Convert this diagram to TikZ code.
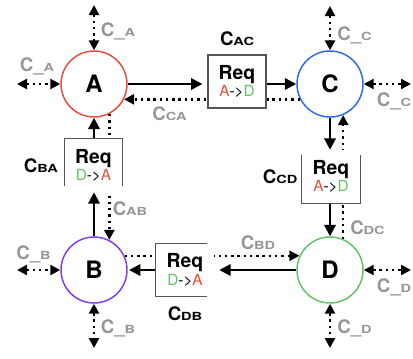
\documentclass[tikz,border=0pt]{standalone}
\usepackage{fontspec}
\setmainfont{TeX Gyre Heros}
\usepackage{graphicx}
\usetikzlibrary{arrows.meta,positioning,backgrounds}
\definecolor{rougeA}{RGB}{232,76,61}
\definecolor{bleuC}{RGB}{45,105,240}
\definecolor{violetB}{RGB}{128,60,240}
\definecolor{vertD}{RGB}{100,195,100}
\definecolor{grisT}{RGB}{150,150,150}
\definecolor{grisBoite}{RGB}{85,85,85}
%noms des canaux
\newcommand{\canal}[1]{{\fontsize{14}{14}\selectfont C}\scalebox{1.3}[1]{\fontsize{8.4}{9}\selectfont #1}}
\newcommand{\canalp}[1]{{\fontsize{14}{14}\selectfont C\_}\scalebox{1.3}[1]{\fontsize{8.4}{9}\selectfont #1}}
\newcommand{\req}[2]{{\fontsize{14.5}{15}\selectfont\bfseries Req}\\[1pt]{\fontsize{11.5}{12}\selectfont\mdseries #1->#2}}
\begin{document}
\begin{tikzpicture}[x=0.75pt,y=-0.75pt,
	noeud/.style={circle,draw,line width=1.1pt,fill=white,minimum size=49.5pt,inner sep=0pt,font=\fontsize{18}{18}\selectfont\bfseries},
	file/.style={fill=white,minimum width=43.5pt,minimum height=39.75pt,inner sep=0pt,align=center},
	bord/.style={draw=grisBoite,line width=0.9pt},
	plein/.style={line width=1.7pt,-{Triangle[length=8.5pt,width=8.5pt]}},
	pointille/.style={line width=1.8pt,dash pattern=on 1.8pt off 2.9pt,-{Triangle[length=7.5pt,width=7.5pt]}},
	boucle/.style={line width=1.8pt,dash pattern=on 1.8pt off 2.9pt,{Triangle[length=7.5pt,width=7.5pt]}-{Triangle[length=7.5pt,width=7.5pt]}},
	lnoir/.style={font=\bfseries,anchor=base,inner sep=0pt},
	lgris/.style={font=\bfseries,text=grisT,anchor=base,inner sep=0pt}]
	\useasboundingbox (0,0) rectangle (413,358);
	%les noeuds
	\node[noeud,draw=rougeA] (A) at (94,84) {A};
	\node[noeud,draw=bleuC] (C) at (330,84) {C};
	\node[noeud,draw=violetB] (B) at (94,270) {B};
	\node[noeud,draw=vertD] (D) at (330,270) {D};
	%les files
	\node[file,draw=grisBoite,line width=0.9pt] (qAC) at (237,81.5) {\req{\textcolor{rougeA}{A}}{\textcolor{vertD}{D}}};
	\node[file] (qBA) at (93.5,165.5) {\req{\textcolor{vertD}{D}}{\textcolor{rougeA}{A}}};
	\node[file] (qCD) at (331,176.5) {\req{\textcolor{rougeA}{A}}{\textcolor{vertD}{D}}};
	\node[file] (qDB) at (185,270) {\req{\textcolor{vertD}{D}}{\textcolor{rougeA}{A}}};
	\draw[bord] ([yshift=4.5pt]qBA.south west) -- (qBA.north west) -- (qBA.north east) -- ([yshift=4.5pt]qBA.south east);
	\draw[bord] ([yshift=-3.75pt]qCD.north west) -- (qCD.south west) -- (qCD.south east) -- ([yshift=-3.75pt]qCD.north east);
	\draw[bord] ([xshift=-5.25pt]qDB.north east) -- (qDB.north west) -- (qDB.south west) -- ([xshift=-5.25pt]qDB.south east);
	%extremites des boucles
	\coordinate (hA) at (94,5);
	\coordinate (gA) at (17,84);
	\coordinate (hC) at (330,6);
	\coordinate (dC) at (411,84);
	\coordinate (gB) at (17,270);
	\coordinate (bB) at (94,348);
	\coordinate (dD) at (411,270);
	\coordinate (bD) at (330,348);
	%fleches
	\begin{pgfonlayer}{background}
	\draw[plein,shorten >=3.75pt] (A.east) -- (A.east -| qAC.west);
	\draw[plein] (qAC.east |- C.west) -- (C.west);
	\draw[pointille] (C.207) -- (A.333);
	\draw[plein] (A.south |- qBA.north) -- (A.south);
	\draw[plein] (B.north) -- (B.north |- qBA.south);
	\draw[pointille] (A.297) -- (B.63);
	\draw[plein] (C.south) -- (C.south |- qCD.north);
	\draw[plein] (C.south |- qCD.south) -- (D.north);
	\draw[pointille] (D.67) -- (C.293);
	\draw[plein,shorten >=3.75pt] (D.west) -- (D.west -| qDB.east);
	\draw[plein,shorten >=1pt] (qDB.west |- B.east) -- (B.east);
	\draw[pointille] (B.25) -- (D.155);
	%boucles
	\draw[boucle] (hA) -- (A.north);
	\draw[boucle] (gA) -- (A.west);
	\draw[boucle] (hC) -- (C.north);
	\draw[boucle] (C.east) -- (dC);
	\draw[boucle] (gB) -- (B.west);
	\draw[boucle] (B.south) -- (bB);
	\draw[boucle] (D.east) -- (dD);
	\draw[boucle] (D.south) -- (bD);
	\end{pgfonlayer}
	%etiquettes
	\node[lnoir,above=6.5pt of qAC] (lAC) {\canal{AC}};
	\node[lnoir,left=4.5pt of qBA] (lBA) {\canal{BA}};
	\node[lnoir,left=3pt of qCD] (lCD) {\canal{CD}};
	\node[lnoir,below=7.3pt of qDB] (lDB) {\canal{DB}};
	\node[lgris] (lCA) at (169.5,120) {\canal{CA}};
	\node[lgris] (lAB) at (130,215) {\canal{AB}};
	\node[lgris] (lDC) at (367.5,234) {\canal{DC}};
	\node[lgris] (lBD) at (258,249) {\canal{BD}};
	\node[lgris] (pA1) at (118,36) {\canalp{A}};
	\node[lgris] (pA2) at (37,71) {\canalp{A}};
	\node[lgris] (pC1) at (354.5,40) {\canalp{C}};
	\node[lgris] (pC2) at (394,106) {\canalp{C}};
	\node[lgris] (pB1) at (33.5,259) {\canalp{B}};
	\node[lgris] (pB2) at (118,333) {\canalp{B}};
	\node[lgris] (pD1) at (394,292) {\canalp{D}};
	\node[lgris] (pD2) at (354.5,333) {\canalp{D}};
\end{tikzpicture}
\end{document}
